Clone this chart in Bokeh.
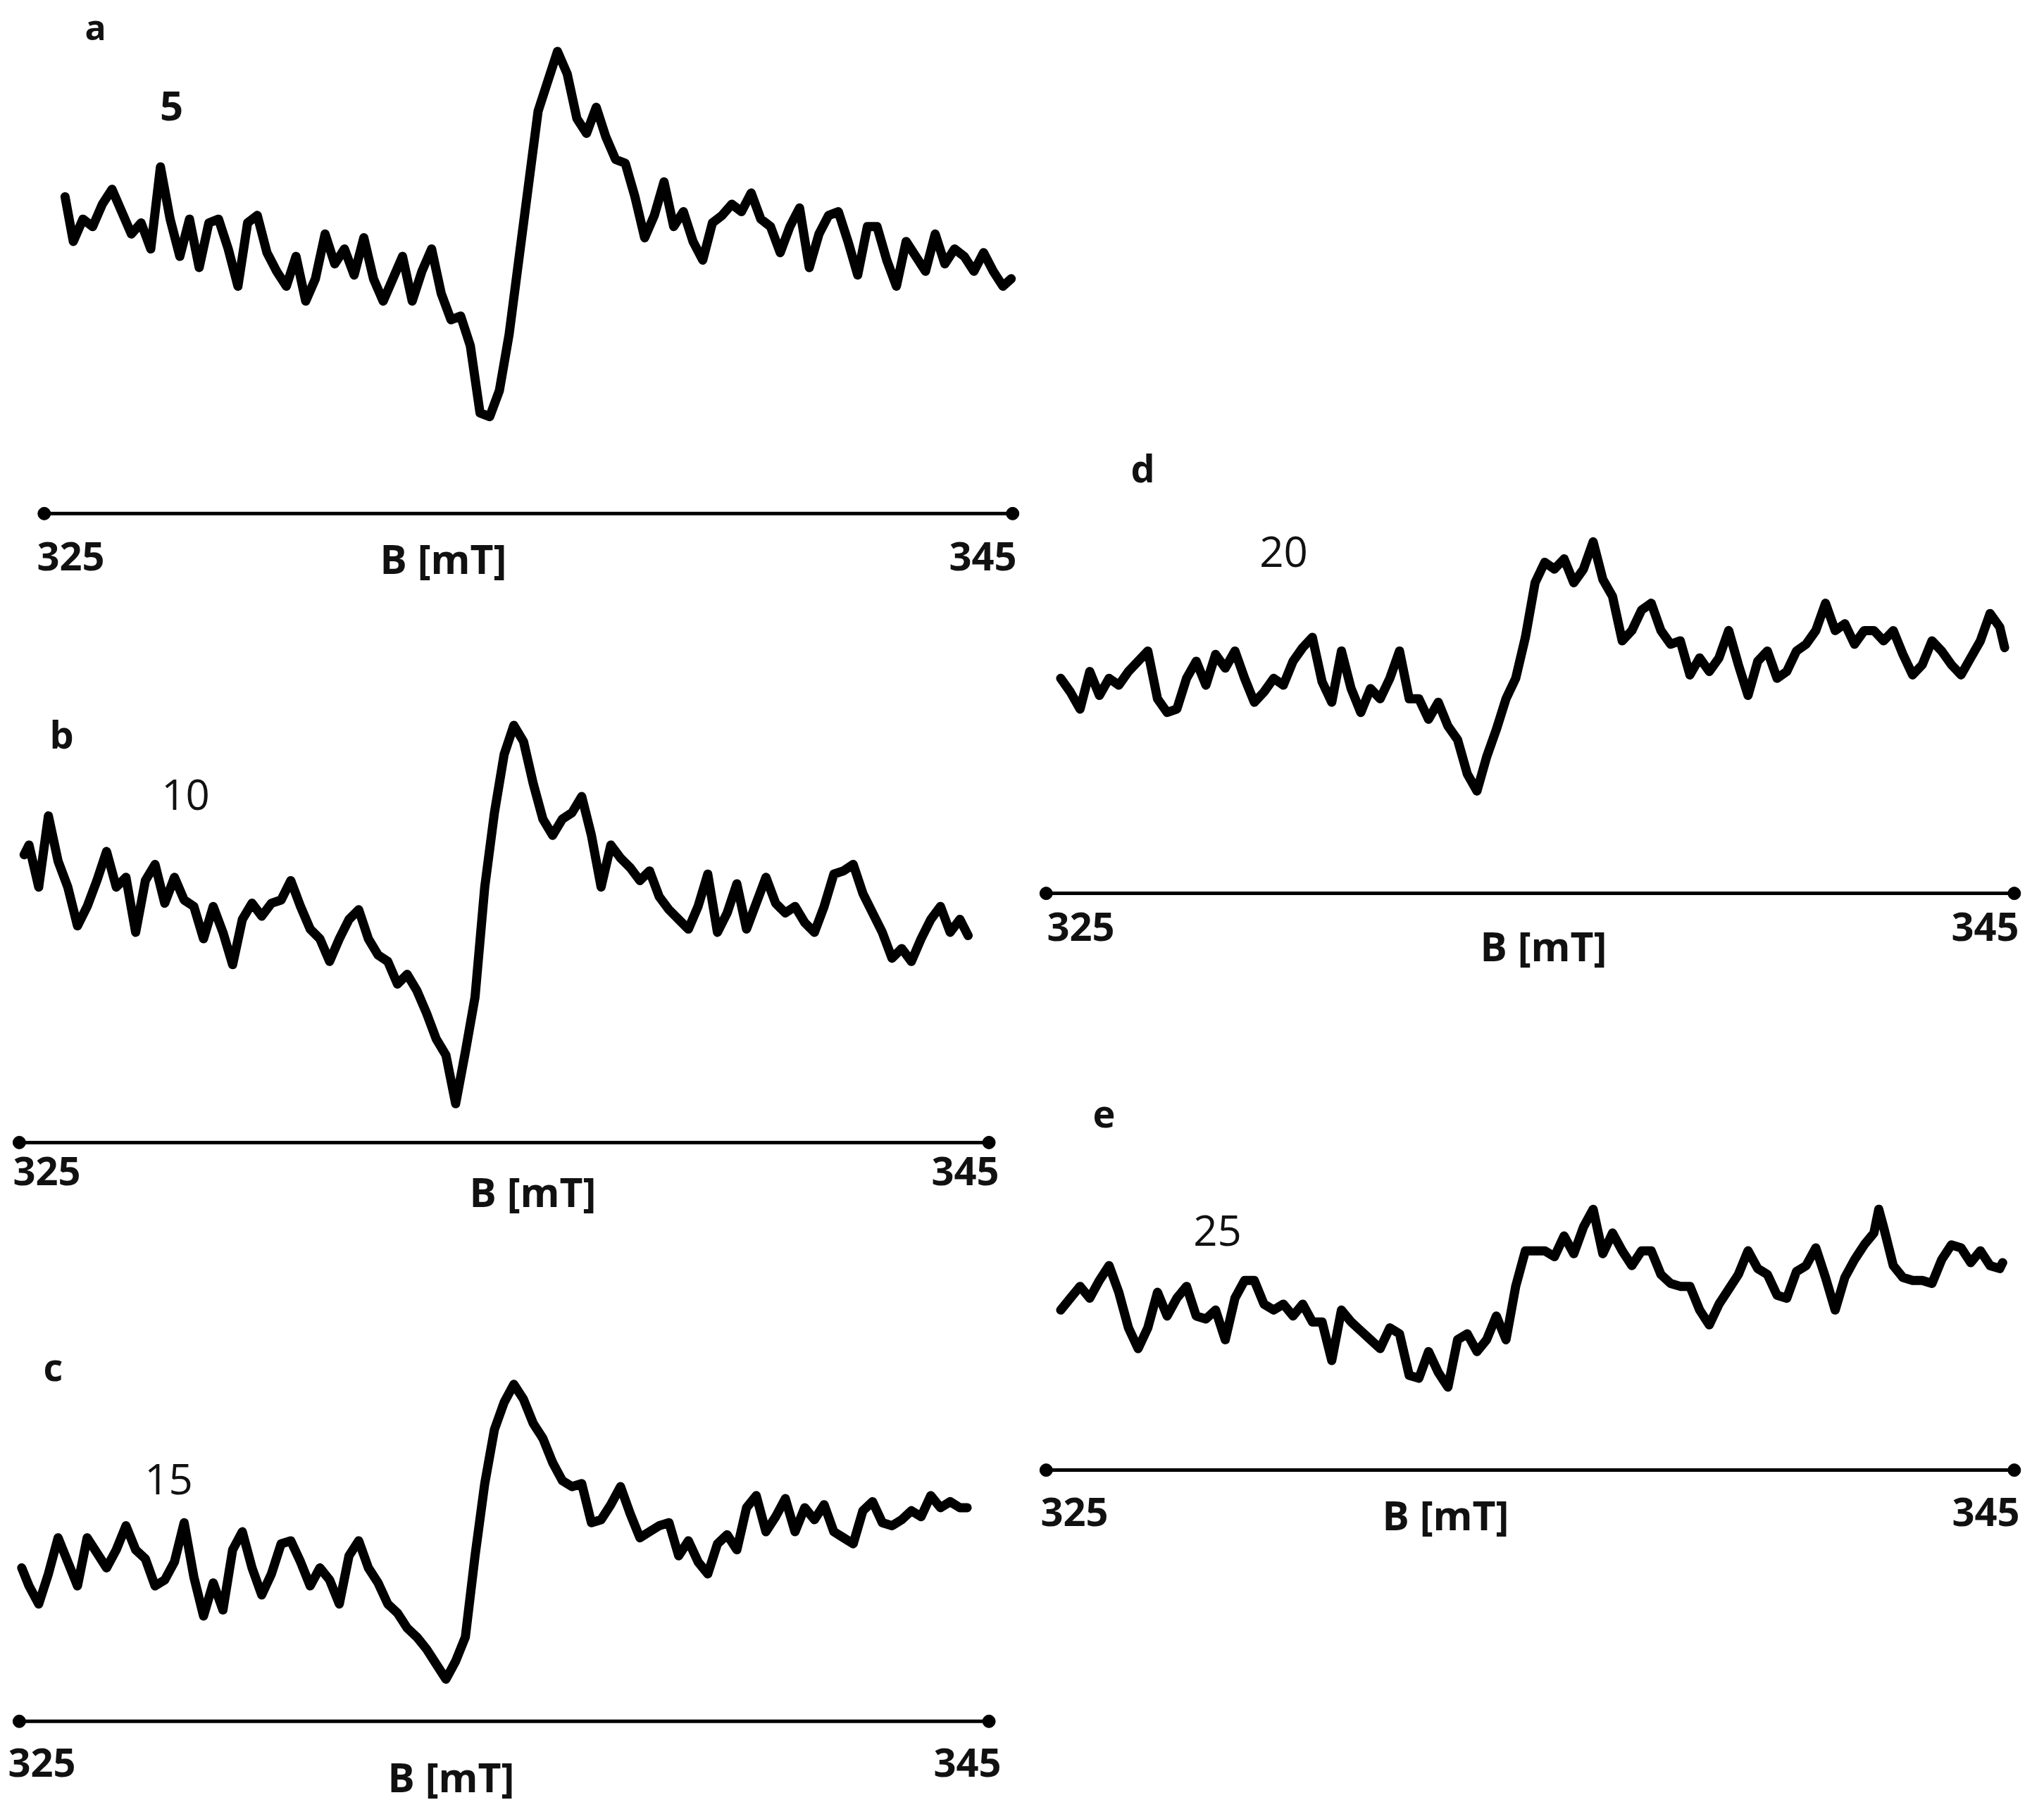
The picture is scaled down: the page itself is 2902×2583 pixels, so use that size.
from bokeh.plotting import figure
from bokeh.layouts import row, column
from bokeh.models import Spacer
from bokeh.core.properties import value
from bokeh.embed import file_html
from bokeh.resources import INLINE

# ---------------- data ----------------
TICKS = [325, 345]
TICK_LABELS = ["325", "345"]
AXIS_LABEL = "B [mT]"
LETTERS = ["a", "b", "c", "d", "e"]
DOSES = ["5", "10", "15", "20", "25"]

B_A = [325.43, 325.6, 325.8, 326.0, 326.2, 326.4, 326.6, 326.8, 327.0, 327.2, 327.4, 327.6, 327.8,
       328.0, 328.2, 328.4, 328.6, 328.8, 329.0, 329.2, 329.4, 329.6, 329.8, 330.0, 330.2, 330.4,
       330.6, 330.8, 331.0, 331.2, 331.4, 331.6, 331.8, 332.0, 332.2, 332.4, 332.6, 332.8, 333.0,
       333.2, 333.4, 333.6, 333.8, 334.0, 334.2, 334.4, 334.6, 334.8, 335.0, 335.2, 335.4, 335.6,
       335.8, 336.0, 336.2, 336.4, 336.6, 336.8, 337.0, 337.2, 337.4, 337.6, 337.8, 338.0, 338.2,
       338.4, 338.6, 338.8, 339.0, 339.2, 339.4, 339.6, 339.8, 340.0, 340.2, 340.4, 340.6, 340.8,
       341.0, 341.2, 341.4, 341.6, 341.8, 342.0, 342.2, 342.4, 342.6, 342.8, 343.0, 343.2, 343.4,
       343.6, 343.8, 344.0, 344.2, 344.4, 344.6, 344.8, 344.97]
I_A = [85, 73, 79, 77, 83, 87, 81, 75, 78, 71, 93, 79, 69,
       79, 66, 78, 79, 71, 61, 78, 80, 70, 65, 61, 69, 57,
       63, 75, 67, 71, 64, 74, 63, 57, 63, 69, 57, 65, 71,
       59, 52, 53, 45, 27, 26, 33, 48, 68, 88, 108, 116, 124,
       118, 106, 102, 109, 101, 95, 94, 85, 74, 80, 89, 77, 81,
       73, 68, 78, 80, 83, 81, 86, 79, 77, 70, 77, 82, 66,
       75, 80, 81, 73, 64, 77, 77, 68, 61, 73, 69, 65, 75,
       67, 71, 69, 65, 70, 65, 61, 63]

B_B = [325.1, 325.2, 325.4, 325.6, 325.8, 326.0, 326.2, 326.4, 326.6, 326.8, 327.0, 327.2, 327.4,
       327.6, 327.8, 328.0, 328.2, 328.4, 328.6, 328.8, 329.0, 329.2, 329.4, 329.6, 329.8, 330.0,
       330.2, 330.4, 330.6, 330.8, 331.0, 331.2, 331.4, 331.6, 331.8, 332.0, 332.2, 332.4, 332.6,
       332.8, 333.0, 333.2, 333.4, 333.6, 333.8, 334.0, 334.2, 334.4, 334.6, 334.8, 335.0, 335.2,
       335.4, 335.6, 335.8, 336.0, 336.2, 336.4, 336.6, 336.8, 337.0, 337.2, 337.4, 337.6, 337.8,
       338.0, 338.2, 338.4, 338.6, 338.8, 339.0, 339.2, 339.4, 339.6, 339.8, 340.0, 340.2, 340.4,
       340.6, 340.8, 341.0, 341.2, 341.4, 341.6, 341.8, 342.0, 342.2, 342.4, 342.6, 342.8, 343.0,
       343.2, 343.4, 343.6, 343.8, 344.0, 344.2, 344.4, 344.57]
I_B = [89, 92, 79, 101, 87, 79, 67, 73, 81, 90, 79, 82, 65,
       81, 86, 74, 82, 75, 73, 63, 73, 65, 55, 69, 74, 70,
       74, 75, 81, 73, 66, 63, 56, 63, 69, 72, 63, 58, 56,
       49, 52, 47, 40, 32, 27, 12, 28, 45, 79, 102, 120, 129,
       124, 111, 100, 95, 100, 102, 107, 95, 79, 92, 88, 85, 81,
       84, 76, 72, 69, 66, 73, 83, 65, 71, 80, 66, 74, 82,
       74, 71, 73, 68, 65, 73, 83, 84, 86, 77, 71, 65, 57,
       60, 56, 63, 69, 73, 65, 69, 64]

B_C = [325.05, 325.2, 325.4, 325.6, 325.8, 326.0, 326.2, 326.4, 326.6, 326.8, 327.0, 327.2, 327.4,
       327.6, 327.8, 328.0, 328.2, 328.4, 328.6, 328.8, 329.0, 329.2, 329.4, 329.6, 329.8, 330.0,
       330.2, 330.4, 330.6, 330.8, 331.0, 331.2, 331.4, 331.6, 331.8, 332.0, 332.2, 332.4, 332.6,
       332.8, 333.0, 333.2, 333.4, 333.6, 333.8, 334.0, 334.2, 334.4, 334.6, 334.8, 335.0, 335.2,
       335.4, 335.6, 335.8, 336.0, 336.2, 336.4, 336.6, 336.8, 337.0, 337.2, 337.4, 337.6, 337.8,
       338.0, 338.2, 338.4, 338.6, 338.8, 339.0, 339.2, 339.4, 339.6, 339.8, 340.0, 340.2, 340.4,
       340.6, 340.8, 341.0, 341.2, 341.4, 341.6, 341.8, 342.0, 342.2, 342.4, 342.6, 342.8, 343.0,
       343.2, 343.4, 343.6, 343.8, 344.0, 344.2, 344.4, 344.55]
I_C = [51, 45, 39, 49, 61, 53, 45, 61, 56, 51, 57, 65, 57,
       54, 45, 47, 53, 66, 48, 35, 46, 37, 57, 63, 51, 42,
       49, 59, 60, 53, 45, 51, 47, 39, 55, 60, 51, 46, 39,
       36, 31, 28, 24, 19, 14, 20, 28, 55, 79, 97, 106, 112,
       107, 99, 94, 86, 80, 78, 79, 66, 67, 72, 78, 69, 61,
       63, 65, 66, 55, 60, 53, 49, 59, 62, 57, 71, 75, 63,
       68, 74, 63, 71, 67, 72, 63, 61, 59, 70, 73, 66, 65,
       67, 70, 68, 75, 71, 73, 71, 71]

B_D = [325.3, 325.5, 325.7, 325.9, 326.1, 326.3, 326.5, 326.7, 326.9, 327.1, 327.3, 327.5, 327.7,
       327.9, 328.1, 328.3, 328.5, 328.7, 328.9, 329.1, 329.3, 329.5, 329.7, 329.9, 330.1, 330.3,
       330.5, 330.7, 330.9, 331.1, 331.3, 331.5, 331.7, 331.9, 332.1, 332.3, 332.5, 332.7, 332.9,
       333.1, 333.3, 333.5, 333.7, 333.9, 334.1, 334.3, 334.5, 334.7, 334.9, 335.1, 335.3, 335.5,
       335.7, 335.9, 336.1, 336.3, 336.5, 336.7, 336.9, 337.1, 337.3, 337.5, 337.7, 337.9, 338.1,
       338.3, 338.5, 338.7, 338.9, 339.1, 339.3, 339.5, 339.7, 339.9, 340.1, 340.3, 340.5, 340.7,
       340.9, 341.1, 341.3, 341.5, 341.7, 341.9, 342.1, 342.3, 342.5, 342.7, 342.9, 343.1, 343.3,
       343.5, 343.7, 343.9, 344.1, 344.3, 344.5, 344.7, 344.8]
I_D = [63, 59, 54, 65, 58, 63, 61, 65, 68, 71, 57, 53, 54,
       63, 68, 61, 70, 66, 71, 63, 56, 59, 63, 61, 68, 72,
       75, 62, 56, 71, 60, 53, 60, 57, 63, 71, 57, 57, 51,
       56, 49, 45, 35, 30, 40, 48, 57, 63, 75, 91, 97, 95,
       98, 91, 95, 103, 92, 87, 74, 77, 83, 85, 77, 73, 74,
       64, 69, 65, 69, 77, 67, 58, 68, 71, 63, 65, 71, 73,
       77, 85, 77, 79, 73, 77, 77, 74, 77, 70, 64, 67, 74,
       71, 67, 64, 69, 74, 82, 78, 72]

B_E = [325.3, 325.5, 325.7, 325.9, 326.1, 326.3, 326.5, 326.7, 326.9, 327.1, 327.3, 327.5, 327.7,
       327.9, 328.1, 328.3, 328.5, 328.7, 328.9, 329.1, 329.3, 329.5, 329.7, 329.9, 330.1, 330.3,
       330.5, 330.7, 330.9, 331.1, 331.3, 331.5, 331.7, 331.9, 332.1, 332.3, 332.5, 332.7, 332.9,
       333.1, 333.3, 333.5, 333.7, 333.9, 334.1, 334.3, 334.5, 334.7, 334.9, 335.1, 335.3, 335.5,
       335.7, 335.9, 336.1, 336.3, 336.5, 336.7, 336.9, 337.1, 337.3, 337.5, 337.7, 337.9, 338.1,
       338.3, 338.5, 338.7, 338.9, 339.1, 339.3, 339.5, 339.7, 339.9, 340.1, 340.3, 340.5, 340.7,
       340.9, 341.1, 341.3, 341.5, 341.7, 341.9, 342.1, 342.2, 342.3, 342.5, 342.7, 342.9, 343.1,
       343.3, 343.5, 343.7, 343.9, 344.1, 344.3, 344.5, 344.7, 344.76]
I_E = [54, 58, 62, 58, 64, 69, 60, 48, 41, 48, 60, 52, 58,
       62, 52, 51, 54, 44, 58, 64, 64, 56, 54, 56, 52, 56,
       50, 50, 37, 54, 50, 47, 44, 41, 48, 46, 32, 31, 40,
       33, 28, 44, 46, 40, 44, 52, 44, 62, 74, 74, 74, 72,
       79, 73, 82, 88, 73, 80, 74, 69, 74, 74, 66, 63, 62,
       62, 54, 49, 56, 61, 66, 74, 68, 66, 59, 58, 67, 69,
       75, 65, 54, 65, 71, 76, 80, 88, 82, 69, 65, 64, 64,
       63, 71, 76, 75, 70, 74, 69, 68, 70]

# ---------------- layout (page pixels) ----------------
FONT = value("Open Sans")
LEFT_W, RIGHT_W = 1470, 1410
LEFT_X, RIGHT_X = 8, 8 + LEFT_W

# top, height, column-left, width, axis-left, axis-right, axis-y, px per unit
GEOM = {
    "a": (8, 899, LEFT_X, LEFT_W, 70.3, 1445.2, 736.8, 5.293),
    "b": (907, 898, LEFT_X, LEFT_W, 34.9, 1411.6, 1629.9, 4.592),
    "c": (1805, 763, LEFT_X, LEFT_W, 34.9, 1411.6, 2451.8, 4.273),
    "d": (611, 870, RIGHT_X, RIGHT_W, 1492.8, 2867.3, 1276.1, 4.847),
    "e": (1481, 740, RIGHT_X, RIGHT_W, 1492.8, 2867.3, 2095.1, 4.209),
}
# text centres in page pixels: letter, dose, "325", "345", axis label
TEXT_POS = {
    "a": [(143, 45), (251, 158), (108, 797), (1403, 797), (637, 800)],
    "b": [(95, 1049), (271, 1136), (74, 1670), (1378, 1670), (764, 1699)],
    "c": [(83, 1947), (247, 2108), (67, 2510), (1381, 2510), (648, 2530)],
    "d": [(1630, 671), (1830, 791), (1542, 1323), (2826, 1323), (2199, 1350)],
    "e": [(1575, 1589), (1736, 1755), (1533, 2154), (2827, 2154), (2060, 2158)],
}
DOSE_BOLD = {"a": True}


def make_panel(key, B, I, letter, dose):
    top, height, left, width, ax_l, ax_r, ax_y, ppu = GEOM[key]
    s = (TICKS[1] - TICKS[0]) / (ax_r - ax_l)
    x0 = TICKS[0] - (ax_l - left) * s
    x1 = x0 + width * s
    y1 = (ax_y - top) / ppu
    y0 = y1 - height / ppu

    def to_data(px, py):
        return x0 + (px - left) * s, y1 - (py - top) / ppu

    p = figure(width=width, height=height, x_range=(x0, x1), y_range=(y0, y1),
               output_backend="svg", toolbar_location=None, min_border=0,
               x_axis_type=None, y_axis_type=None, outline_line_color=None,
               background_fill_color="white", border_fill_color="white")
    p.grid.visible = False

    # spectrum trace
    p.line(B, I, line_width=13, line_color="black", line_join="round", line_cap="round")

    # field axis: line with dots at both ends
    p.segment(x0=[TICKS[0]], y0=[0], x1=[TICKS[1]], y1=[0], line_width=5, line_color="black")
    p.scatter(TICKS, [0, 0], size=18, color="black")

    pos = TEXT_POS[key]
    texts = [letter, dose, TICK_LABELS[0], TICK_LABELS[1], AXIS_LABEL]
    bold_dose = DOSE_BOLD.get(key, False)
    styles = ["bold", "bold" if bold_dose else "normal", "bold", "bold", "bold"]
    sizes = ["50px" if key == "a" else "54px", "58px" if bold_dose else "60px", "56px", "56px", "57px"]
    for (px, py), t, st, sz in zip(pos, texts, styles, sizes):
        dx, dy = to_data(px, py)
        p.text(x=[dx], y=[dy], text=[t], text_align="center", text_baseline="middle",
               text_font=FONT, text_font_style=st, text_font_size=sz, text_color="#111111")
    return p


pa = make_panel("a", B_A, I_A, LETTERS[0], DOSES[0])
pb = make_panel("b", B_B, I_B, LETTERS[1], DOSES[1])
pc = make_panel("c", B_C, I_C, LETTERS[2], DOSES[2])
pd = make_panel("d", B_D, I_D, LETTERS[3], DOSES[3])
pe = make_panel("e", B_E, I_E, LETTERS[4], DOSES[4])

left = column(pa, pb, pc, spacing=0)
right = column(Spacer(width=RIGHT_W, height=611 - 8), pd, pe, spacing=0)
layout = row(left, right, spacing=0)

open("out.html", "w").write(file_html(layout, INLINE))
